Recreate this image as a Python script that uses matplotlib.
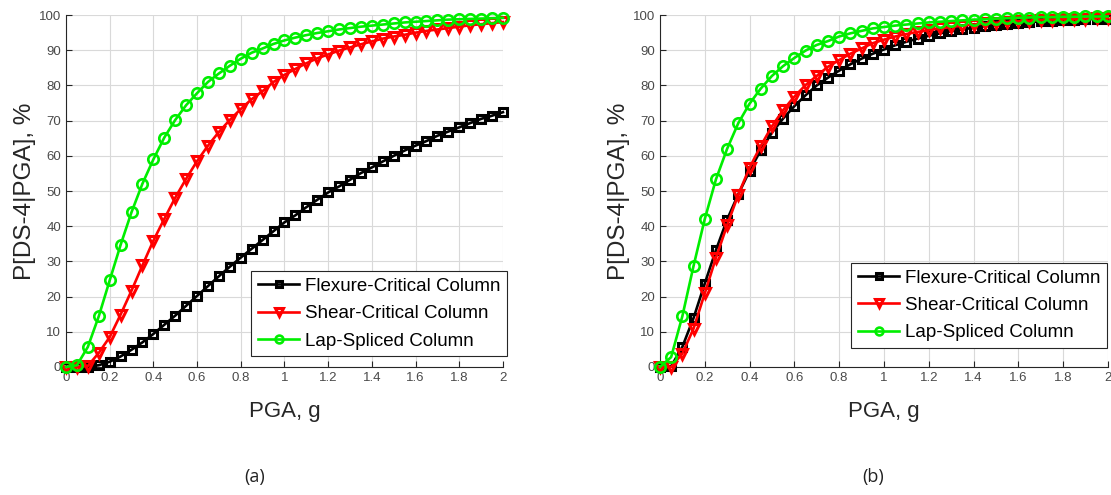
import numpy as np
import matplotlib
matplotlib.use("Agg")
import matplotlib.pyplot as plt

plt.rcParams['font.family'] = ['Liberation Sans', 'DejaVu Sans']

# PGA grid, g
pga = np.linspace(0, 2, 41)

# (a) P[DS-4|PGA], %
flex_a = [0.0, 0.0, 0.1, 0.5, 1.5, 3.0, 4.9, 7.0, 9.4, 12.0,
          14.6, 17.4, 20.2, 23.0, 25.8, 28.5, 31.1, 33.6, 36.1, 38.6,
          41.1, 43.1, 45.4, 47.5, 49.6, 51.3, 53.2, 55.1, 56.7, 58.4,
          60.0, 61.5, 62.9, 64.2, 65.7, 66.9, 68.1, 69.3, 70.5, 71.4, 72.4]
shear_a = [0.0, 0.0, 0.3, 4.0, 8.5, 14.9, 21.7, 28.9, 35.9, 42.1,
           48.1, 53.5, 58.5, 62.9, 66.8, 70.2, 73.3, 76.1, 78.4, 81.0,
           83.0, 84.7, 86.3, 87.7, 88.8, 89.9, 90.8, 91.7, 92.5, 93.3,
           93.9, 94.4, 95.0, 95.5, 95.9, 96.3, 96.7, 97.1, 97.4, 97.7, 98.0]
lap_a = [0.0, 0.5, 5.7, 14.4, 24.6, 34.7, 44.0, 52.1, 59.0, 65.2,
         70.2, 74.4, 77.8, 81.0, 83.4, 85.6, 87.6, 89.3, 90.5, 91.8,
         92.8, 93.6, 94.3, 94.9, 95.4, 95.9, 96.3, 96.7, 97.0, 97.3,
         97.6, 97.9, 98.1, 98.3, 98.5, 98.7, 98.8, 98.9, 99.0, 99.1, 99.2]

# (b) P[DS-4|PGA], %
flex_b = [0.0, 0.2, 5.7, 13.9, 23.7, 33.2, 41.9, 49.1, 55.7, 61.6,
          66.6, 70.6, 74.1, 77.2, 80.0, 82.2, 84.2, 86.0, 87.6, 89.0,
          90.2, 91.4, 92.4, 93.3, 94.1, 94.8, 95.4, 95.9, 96.4, 96.8,
          97.2, 97.5, 97.8, 98.0, 98.2, 98.4, 98.6, 98.7, 98.8, 98.9, 99.0]
shear_b = [0.0, 0.0, 3.8, 10.9, 20.9, 31.0, 40.3, 49.0, 56.6, 62.8,
           68.4, 73.0, 76.8, 80.1, 82.7, 85.3, 87.2, 89.0, 90.5, 92.0,
           93.0, 93.9, 94.6, 95.2, 95.7, 96.2, 96.6, 97.0, 97.3, 97.6,
           97.8, 98.0, 98.2, 98.4, 98.6, 98.7, 98.8, 98.9, 99.0, 99.1, 99.2]
lap_b = [0.0, 2.8, 14.4, 28.7, 42.0, 53.3, 62.0, 69.3, 74.8, 79.1,
         82.7, 85.5, 87.8, 89.9, 91.5, 92.6, 93.9, 94.8, 95.5, 96.2,
         96.6, 97.0, 97.3, 97.6, 97.9, 98.1, 98.3, 98.5, 98.7, 98.8,
         99.0, 99.1, 99.2, 99.3, 99.4, 99.4, 99.5, 99.5, 99.6, 99.6, 99.6]

labels = ['Flexure-Critical Column', 'Shear-Critical Column', 'Lap-Spliced Column']
xticks = [0, 0.2, 0.4, 0.6, 0.8, 1, 1.2, 1.4, 1.6, 1.8, 2]
xticklabels = ['0', '0.2', '0.4', '0.6', '0.8', '1', '1.2', '1.4', '1.6', '1.8', '2']
yticks = list(range(0, 101, 10))


def draw(ax, flex, shear, lap, leg_anchor):
  ax.plot(pga, flex, color='black', lw=1.9, marker='s', ms=5.5, mfc='none',
          mew=2.2, clip_on=False, zorder=3, label=labels[0])
  ax.plot(pga, shear, color='red', lw=1.9, marker='v', ms=7.5, mfc='none',
          mew=2.2, clip_on=False, zorder=4, label=labels[1])
  ax.plot(pga, lap, color='#00ee00', lw=1.9, marker='o', ms=7.5, mfc='none',
          mew=1.9, clip_on=False, zorder=5, label=labels[2])

  ax.set_xlim(0, 2)
  ax.set_ylim(0, 100)
  ax.set_xticks(xticks)
  ax.set_xticklabels(xticklabels)
  ax.set_yticks(yticks)
  ax.grid(True, color='#d9d9d9', lw=0.8)
  ax.set_axisbelow(True)
  ax.tick_params(direction='in', length=4, width=0.8, labelsize=9.5,
                 colors='#262626', labelcolor='#4a4a4a')
  for s in ['top', 'right']:
    ax.spines[s].set_visible(False)
  for s in ['left', 'bottom']:
    ax.spines[s].set_color('#262626')
    ax.spines[s].set_linewidth(0.8)

  ax.set_xlabel('PGA, g', fontsize=16, color='#262626', labelpad=12)
  ax.set_ylabel('P[DS-4|PGA], %', fontsize=17.5, color='#262626', labelpad=2)

  leg = ax.legend(loc='lower right', bbox_to_anchor=leg_anchor, fontsize=13.5,
                  markerscale=0.75, handlelength=2.2, handletextpad=0.3,
                  borderpad=0.35, labelspacing=0.55, borderaxespad=0,
                  fancybox=False, framealpha=1, edgecolor='#262626')
  leg.get_frame().set_linewidth(0.8)
  leg.set_zorder(10)


fig = plt.figure(figsize=(11.11, 4.95), dpi=100)
ax1 = fig.add_axes([0.0594, 0.2586, 0.3933, 0.711])
ax2 = fig.add_axes([0.594, 0.2586, 0.4032, 0.711])

draw(ax1, flex_a, shear_a, lap_a, (1.009, 0.031))
draw(ax2, flex_b, shear_b, lap_b, (0.998, 0.054))

fig.text(255 / 1111, 1 - 477 / 495, '(a)', fontsize=13, family='Open Sans',
         ha='center', va='center', color='#222222')
fig.text(873 / 1111, 1 - 477 / 495, '(b)', fontsize=13, family='Open Sans',
         ha='center', va='center', color='#222222')

fig.savefig('out.png', dpi=100)
